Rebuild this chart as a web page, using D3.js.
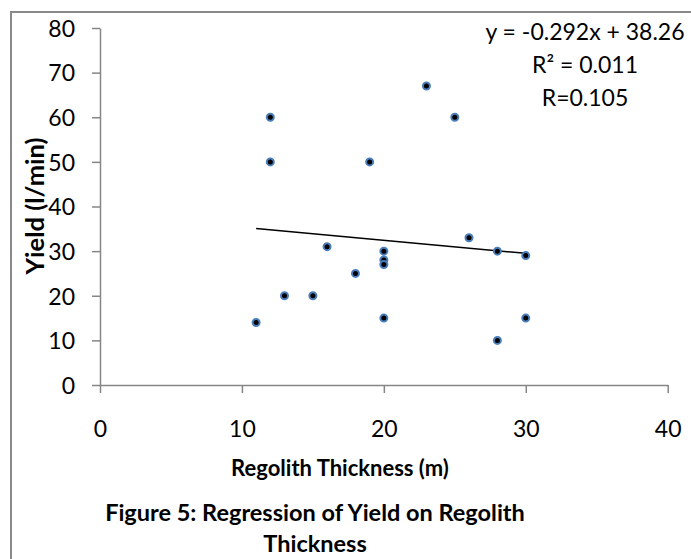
<!DOCTYPE html>
<html>
<head>
<meta charset="utf-8">
<script src="https://cdn.jsdelivr.net/npm/d3@7"></script>
<style>
  body { margin: 0; background: #fff; }
  svg text { font-family: Lato, "Open Sans", sans-serif; fill: #000; }
</style>
</head>
<body>
<div id="chart"></div>
<script>
'use strict';

// Regolith thickness (m) and yield (l/min)
const thickness = [11, 12, 12, 13, 15, 16, 18, 19, 20, 20, 20, 20, 23, 25, 26, 28, 28, 30, 30];
const yieldVals = [14, 60, 50, 20, 20, 31, 25, 50, 30, 28, 27, 15, 67, 60, 33, 30, 10, 29, 15];

const xTicks = [0, 10, 20, 30, 40];
const yTicks = [0, 10, 20, 30, 40, 50, 60, 70, 80];

// trendline as printed on the chart
const trendSlope = -0.292;
const trendIntercept = 38.26;
const trendRange = [11, 30];
const trendLabels = ["y = -0.292x + 38.26", "R² = 0.011", "R=0.105"];

const width = 691, height = 559;

const svg = d3.select("#chart")
    .append("svg")
    .attr("width", width)
    .attr("height", height);

// outer chart border (right and bottom fall outside the picture)
svg.append("rect")
    .attr("x", 11)
    .attr("y", 12)
    .attr("width", 800)
    .attr("height", 700)
    .attr("fill", "none")
    .attr("stroke", "#898989")
    .attr("stroke-width", 2);

const x = d3.scaleLinear().domain([0, 40]).range([100, 667.7]);
const y = d3.scaleLinear().domain([0, 80]).range([385, 28]);

const axisColor = "#868686";

// x axis
const xAxis = svg.append("g")
    .attr("transform", "translate(0,385)")
    .call(d3.axisBottom(x).tickValues(xTicks).tickSize(8).tickPadding(28).tickSizeOuter(0));

// y axis
const yAxis = svg.append("g")
    .attr("transform", "translate(100,0)")
    .call(d3.axisLeft(y).tickValues(yTicks).tickSize(8).tickPadding(17).tickSizeOuter(0));

[xAxis, yAxis].forEach(g => {
    g.select(".domain").attr("stroke", axisColor).attr("stroke-width", 1.5);
    g.selectAll(".tick line").attr("stroke", axisColor).attr("stroke-width", 1.5);
    g.selectAll(".tick text")
        .style("font-family", "Lato, sans-serif")
        .style("font-size", "23px")
        .attr("fill", "#000");
});
yAxis.selectAll(".tick text").attr("dy", "0.36em");

// trendline
svg.append("line")
    .attr("x1", x(trendRange[0]))
    .attr("y1", y(trendSlope * trendRange[0] + trendIntercept))
    .attr("x2", x(trendRange[1]))
    .attr("y2", y(trendSlope * trendRange[1] + trendIntercept))
    .attr("stroke", "#000")
    .attr("stroke-width", 1.5);

// points
svg.selectAll(".markers")
    .data(thickness.map((t, i) => [t, yieldVals[i]]))
    .enter()
    .append("circle")
    .attr("class", "markers")
    .attr("cx", d => x(d[0]))
    .attr("cy", d => y(d[1]))
    .attr("r", 3.5)
    .attr("fill", "#000")
    .attr("stroke", "#4a7ebb")
    .attr("stroke-width", 2);

// trendline equation
svg.selectAll(".eq")
    .data(trendLabels)
    .enter()
    .append("text")
    .attr("class", "eq")
    .attr("x", 585)
    .attr("y", (d, i) => 40 + i * 33)
    .attr("text-anchor", "middle")
    .style("font-size", "23px")
    .text(d => d);

// axis titles
svg.append("text")
    .attr("x", 340)
    .attr("y", 476)
    .attr("text-anchor", "middle")
    .style("font-size", "22px")
    .style("font-weight", "bold")
    .text("Regolith Thickness (m)");

svg.append("text")
    .attr("transform", "translate(44,206) rotate(-90)")
    .attr("text-anchor", "middle")
    .style("font-size", "25.5px")
    .style("font-weight", "bold")
    .text("Yield (l/min)");

// figure caption
svg.append("text")
    .attr("x", 315)
    .attr("y", 521)
    .attr("text-anchor", "middle")
    .style("font-size", "23.5px")
    .style("font-weight", "bold")
    .text("Figure 5: Regression of Yield on Regolith");

svg.append("text")
    .attr("x", 315)
    .attr("y", 552)
    .attr("text-anchor", "middle")
    .style("font-size", "23.5px")
    .style("font-weight", "bold")
    .text("Thickness");
</script>
</body>
</html>
